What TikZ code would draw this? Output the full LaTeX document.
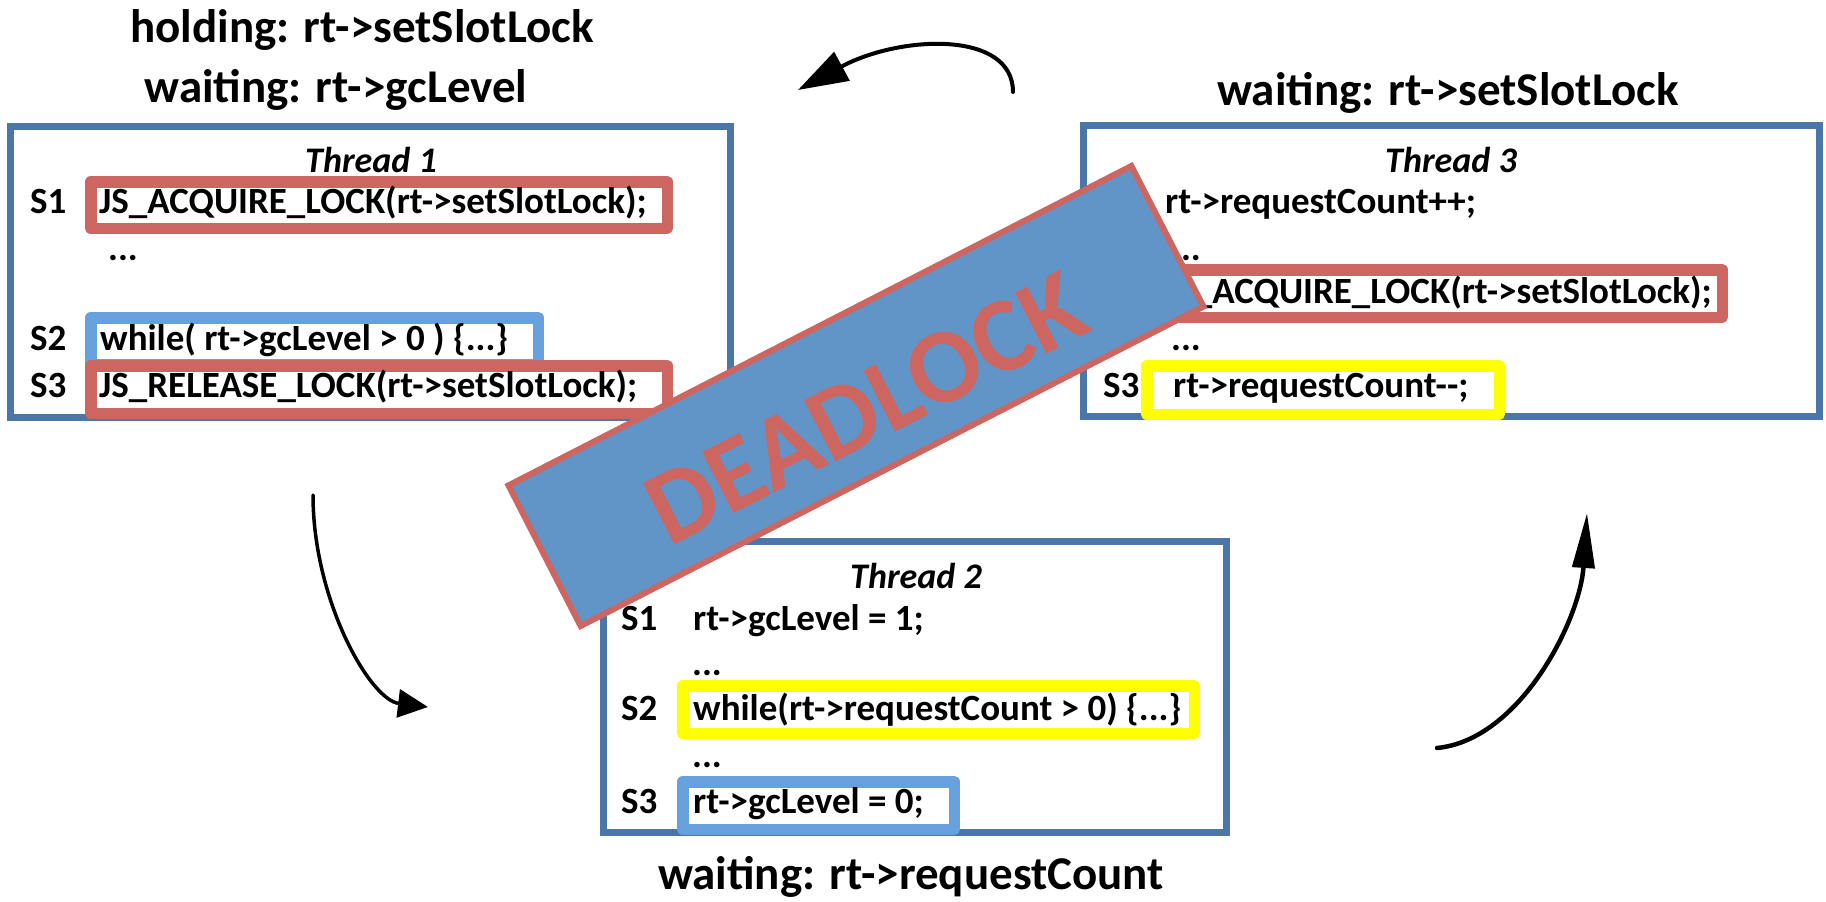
\documentclass[tikz,border=0pt]{standalone}
\usepackage{fontspec}
\setmainfont{Carlito}
\usetikzlibrary{arrows.meta}
\definecolor{thrblue}{HTML}{4A76A8}
\definecolor{hlred}{HTML}{CD6660}
\definecolor{hlblue}{HTML}{66A1DD}
\definecolor{hlyellow}{HTML}{FFFF00}
\definecolor{bannerfill}{HTML}{6195C7}
\begin{document}
\begin{tikzpicture}[x=1pt,y=-1pt,
  thr/.style={draw=thrblue, line width=7pt, fill=white, inner sep=0pt},
  hl/.style={line width=11.5pt, line join=round, fill=white, inner sep=0pt},
  hlr/.style={hl, draw=hlred},
  hlb/.style={hl, draw=hlblue},
  hly/.style={hl, draw=hlyellow},
  code/.style={font=\fontsize{37}{40}\selectfont\bfseries, inner sep=0pt, anchor=base west},
  head/.style={font=\fontsize{47}{50}\selectfont\bfseries, inner sep=0pt, anchor=base},
  ttl/.style={font=\fontsize{36}{40}\selectfont\bfseries\itshape, inner sep=0pt, anchor=base},
  curve/.style={line width=#1, line cap=round},
]
\useasboundingbox (0,0) rectangle (1826,902);

% headings
\node[head] (hold1) at (362,42) {holding: rt->setSlotLock};
\node[head] (wait1) at (336,102) {waiting: rt->gcLevel};
\node[head] (wait3) at (1448,105) {waiting: rt->setSlotLock};
\node[head] (wait2) at (911,889) {waiting: rt->requestCount};

% thread boxes
\node[thr, minimum width=720pt, minimum height=291pt] (t1) at (370.5,272) {};
\node[thr, minimum width=736pt, minimum height=291pt] (t3) at (1451.5,271) {};
\node[thr, minimum width=623pt, minimum height=291pt] (t2) at (915,687) {};

% highlight boxes
\node[hlb, minimum width=447.5pt, minimum height=46.5pt] (t1s2) at (314.5,341) {};
\node[hlr, minimum width=576.5pt, minimum height=46.5pt] (t1s1) at (379,205) {};
\node[hlr, minimum width=576.5pt, minimum height=47.5pt] (t1s3) at (379,389.5) {};
\node[hlr, minimum width=566.5pt, minimum height=47.5pt] (t3s2) at (1439,293.5) {};
\node[hly, minimum width=352.5pt, minimum height=48.5pt] (t3s3) at (1323,390) {};
\node[hly, minimum width=511.5pt, minimum height=47.5pt] (t2s2) at (938.5,709.5) {};
\node[hlb, minimum width=271.5pt, minimum height=47.5pt] (t2s3) at (818.5,805.5) {};

% Thread 1 text
\node[ttl] (t1title) at (371,172) {Thread 1};
\node[code] (t1l1) at (30,213) {S1};
\node[code] (t1c1) at (99,213) {JS\_ACQUIRE\_LOCK(rt->setSlotLock);};
\node[code] (t1d1) at (108,260) {...};
\node[code] (t1l2) at (30,350) {S2};
\node[code] (t1c2) at (100,350) {while( rt->gcLevel > 0 ) \{...\}};
\node[code] (t1l3) at (30,397) {S3};
\node[code] (t1c3) at (99,397) {JS\_RELEASE\_LOCK(rt->setSlotLock);};

% Thread 3 text
\node[ttl] (t3title) at (1451,172) {Thread 3};
\node[code] (t3c1) at (1165,213) {rt->requestCount++;};
\node[code] (t3d1) at (1171,260) {...};
\node[code] (t3c2) at (1164,303) {JS\_ACQUIRE\_LOCK(rt->setSlotLock);};
\node[code] (t3d2) at (1171,350) {...};
\node[code] (t3l3) at (1103,397) {S3};
\node[code] (t3c3) at (1173,397) {rt->requestCount-\kern0pt-;};

% Thread 2 text
\node[ttl] (t2title) at (916,588) {Thread 2};
\node[code] (t2l1) at (621,630) {S1};
\node[code] (t2c1) at (693,630) {rt->gcLevel = 1;};
\node[code] (t2d1) at (692,675) {...};
\node[code] (t2l2) at (621,720) {S2};
\node[code] (t2c2) at (693,720) {while(rt->requestCount > 0) \{...\}};
\node[code] (t2d2) at (692,767) {...};
\node[code] (t2l3) at (621,813) {S3};
\node[code] (t2c3) at (693,813) {rt->gcLevel = 0;};

% arrows
\coordinate (a1s) at (1013,92);
\coordinate (a1e) at (798,90);
\draw[curve=4pt, -{Triangle[length=50pt,width=32pt]}] (a1s) .. controls (1013,30) and (900,35) .. (a1e);
\coordinate (a2s) at (313,495);
\coordinate (a2e) at (428,707);
\draw[curve=3.5pt, -{Triangle[length=30pt,width=28pt]}] (a2s) .. controls (313,600) and (370,700) .. (a2e);
\coordinate (a3s) at (1437,748);
\coordinate (a3e) at (1587,513);
\draw[curve=4.5pt, -{Triangle[length=55pt,width=22pt]}] (a3s) .. controls (1520,740) and (1580,620) .. (a3e);

% banner
\node[draw=hlred, fill=bannerfill, line width=6pt, rotate=27.15, minimum width=700pt, minimum height=158pt, inner sep=0pt] (banner) at (856,396) {};
\node[rotate=27.15, text=hlred, font=\fontsize{106}{114}\selectfont\bfseries, inner sep=0pt] (dltext) at (866,408) {DEADLOCK};
\end{tikzpicture}
\end{document}
